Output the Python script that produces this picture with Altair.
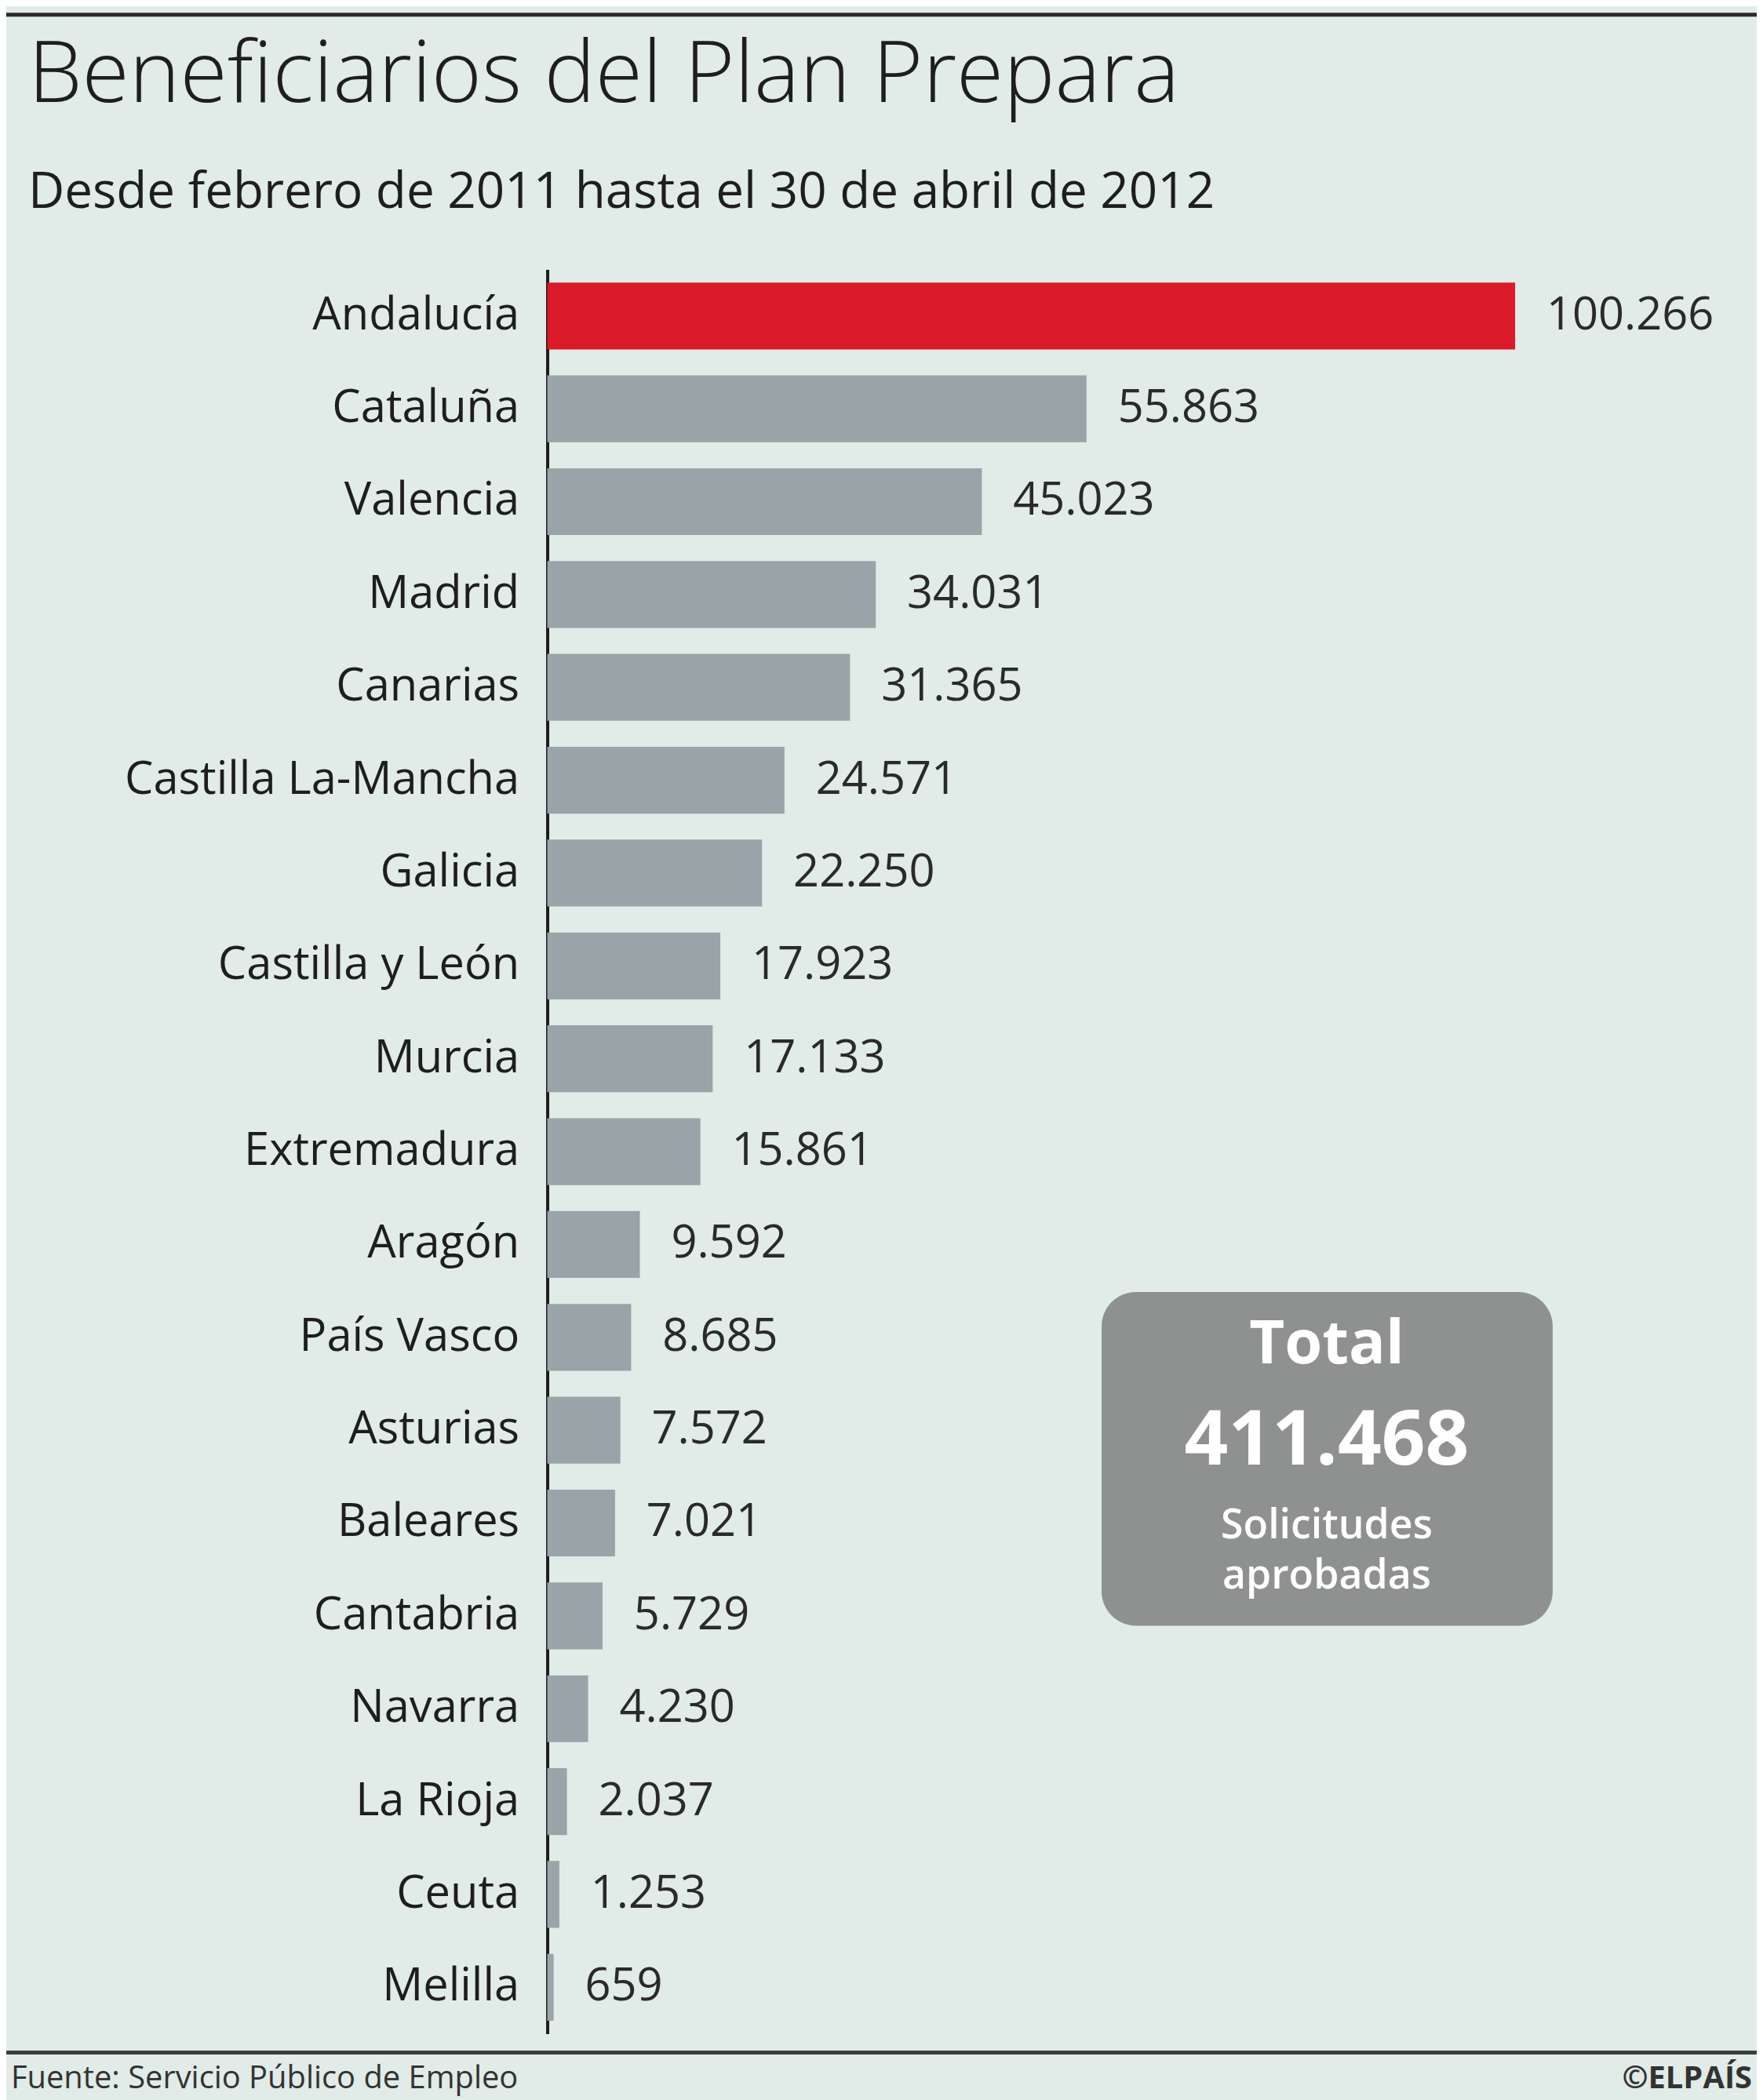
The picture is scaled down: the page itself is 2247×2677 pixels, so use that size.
import altair as alt
import pandas as pd

regiones = ["Andalucía", "Cataluña", "Valencia", "Madrid", "Canarias",
            "Castilla La-Mancha", "Galicia", "Castilla y León", "Murcia",
            "Extremadura", "Aragón", "País Vasco", "Asturias", "Baleares",
            "Cantabria", "Navarra", "La Rioja", "Ceuta", "Melilla"]
beneficiarios = [100266, 55863, 45023, 34031, 31365, 24571, 22250, 17923,
                 17133, 15861, 9592, 8685, 7572, 7021, 5729, 4230, 2037, 1253, 659]
destacado = ["Andalucía"]

titulo = "Beneficiarios del Plan Prepara"
subtitulo = "Desde febrero de 2011 hasta el 30 de abril de 2012"
total_lineas = ["Total", "411.468", "Solicitudes", "aprobadas"]
fuente = "Fuente: Servicio Público de Empleo"
firma = "©ELPAÍS"

df = pd.DataFrame({
    "region": regiones,
    "valor": beneficiarios,
    "etiqueta": [f"{v:,}".replace(",", ".") for v in beneficiarios],
    "color": ["rojo" if r in destacado else "gris" for r in regiones],
})

W, H = 1531, 2257
BG = "#e1ebe7"

x = alt.X("valor:Q", scale=alt.Scale(domain=[0, 124000], nice=False), axis=None)
y = alt.Y("region:N", sort=regiones,
          scale=alt.Scale(paddingInner=0.28, paddingOuter=0.14),
          axis=alt.Axis(title=None, ticks=False, labelFontSize=58, labelFont="Open Sans",
                        labelColor="#1e1e1e", labelPadding=36, domainColor="#1c1c1c",
                        domainWidth=4, grid=False, labelLimit=700))

bars = alt.Chart(df).mark_bar().encode(
    x=x, y=y,
    color=alt.Color("color:N", scale=alt.Scale(domain=["rojo", "gris"],
                                               range=["#da1a28", "#99a4a9"]), legend=None),
)

labels = alt.Chart(df).mark_text(align="left", baseline="middle", dx=40,
                                 fontSize=58, font="Open Sans", color="#2a2a2a").encode(
    x=x, y=y, text="etiqueta:N")

# Annotation box (pixel positions)
box = alt.Chart(pd.DataFrame({"k": [0]})).mark_rect(
    color="#8f9191", cornerRadius=44).encode(
    x=alt.value(709), x2=alt.value(1286), y=alt.value(1308), y2=alt.value(1735))

cx = 997
t1 = alt.Chart(pd.DataFrame({"t": [total_lineas[0]]})).mark_text(
    fontSize=78, fontWeight="bold", font="Open Sans", color="white", baseline="middle").encode(
    text="t:N", x=alt.value(cx), y=alt.value(1376))
t2 = alt.Chart(pd.DataFrame({"t": [total_lineas[1]]})).mark_text(
    fontSize=98, fontWeight="bold", font="Open Sans", color="white", baseline="middle").encode(
    text="t:N", x=alt.value(cx), y=alt.value(1500))
t3 = alt.Chart(pd.DataFrame({"t": [total_lineas[2]]})).mark_text(
    fontSize=52, fontWeight=600, font="Open Sans", color="white", baseline="middle").encode(
    text="t:N", x=alt.value(cx), y=alt.value(1607))
t4 = alt.Chart(pd.DataFrame({"t": [total_lineas[3]]})).mark_text(
    fontSize=52, fontWeight=600, font="Open Sans", color="white", baseline="middle").encode(
    text="t:N", x=alt.value(cx), y=alt.value(1671))

# Title, subtitle, source
tt = alt.Chart(pd.DataFrame({"t": [titulo]})).mark_text(
    fontSize=110, fontWeight=300, font="Open Sans", color="#1e1e1e", align="left",
    baseline="middle").encode(text="t:N", x=alt.value(-664), y=alt.value(-247))
st = alt.Chart(pd.DataFrame({"t": [subtitulo]})).mark_text(
    fontSize=64, fontWeight=500, font="Open Sans", color="#1e1e1e", align="left",
    baseline="middle").encode(text="t:N", x=alt.value(-664), y=alt.value(-98))
top_rule = alt.Chart(pd.DataFrame({"k": [0]})).mark_rule(color="#2a2a2a", strokeWidth=5).encode(
    x=alt.value(-700), x2=alt.value(W + 20), y=alt.value(-326))
bot_rule = alt.Chart(pd.DataFrame({"k": [0]})).mark_rule(color="#3a3f3d", strokeWidth=5).encode(
    x=alt.value(-700), x2=alt.value(W + 20), y=alt.value(H + 24))
src = alt.Chart(pd.DataFrame({"t": [fuente]})).mark_text(
    fontSize=40, font="Open Sans", color="#333333", align="left", baseline="middle").encode(
    text="t:N", x=alt.value(-686), y=alt.value(H + 58))
sig = alt.Chart(pd.DataFrame({"t": [firma]})).mark_text(
    fontSize=40, fontWeight="bold", font="Open Sans", color="#333333", align="right",
    baseline="middle").encode(text="t:N", x=alt.value(W + 10), y=alt.value(H + 58))

chart = alt.layer(bars, labels, box, t1, t2, t3, t4, tt, st, top_rule, bot_rule, src, sig).properties(
    width=W, height=H,
    autosize=alt.AutoSizeParams(type="none"),
    padding={"left": 692, "top": 332, "right": 16, "bottom": 80},
    background=BG,
).configure_view(stroke=None)

chart.save("out.html", embed_options={"renderer": "svg", "actions": False})
